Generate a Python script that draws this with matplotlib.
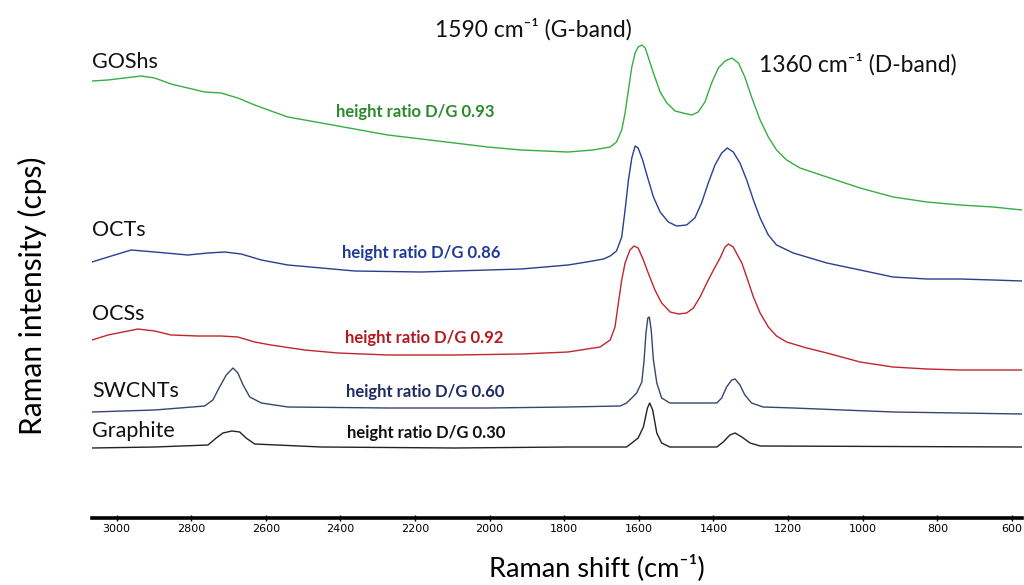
import numpy as np
import matplotlib
matplotlib.use("Agg")
import matplotlib.pyplot as plt

# Raman spectra (shift in cm-1, stacked intensity in arbitrary cps)
gos_x = [3066, 3023, 2979, 2934, 2898, 2854, 2809, 2764, 2720, 2675, 2630, 2586, 2541, 2451, 2362,
         2273, 2183, 2094, 2005, 1915, 1790, 1723, 1677, 1660, 1646, 1637, 1628, 1619, 1610, 1602,
         1592, 1583, 1575, 1561, 1543, 1525, 1503, 1482, 1458, 1441, 1423, 1405, 1387, 1369, 1351,
         1333, 1316, 1298, 1275, 1253, 1231, 1204, 1168, 1096, 1007, 918, 828, 739, 650, 573]
gos_y = [437, 438, 440, 442, 440, 434, 430, 426, 425, 420, 413, 407, 401, 395, 389,
         383, 379, 375, 371, 368, 366, 368, 371, 376, 388, 405, 428, 451, 465, 471,
         473, 470, 461, 445, 426, 415, 407, 405, 403, 406, 416, 435, 450, 457, 460,
         455, 441, 421, 398, 381, 368, 358, 350, 341, 330, 321, 316, 313, 311, 308]

oct_x = [3066, 3023, 2961, 2898, 2809, 2755, 2710, 2666, 2612, 2541, 2451, 2362, 2183, 2005, 1915,
         1790, 1740, 1695, 1677, 1660, 1646, 1637, 1628, 1619, 1610, 1602, 1590, 1577, 1561, 1543,
         1521, 1499, 1472, 1450, 1432, 1414, 1396, 1378, 1363, 1347, 1329, 1311, 1293, 1275, 1253,
         1231, 1186, 1096, 1007, 919, 828, 739, 650, 573]
oct_y = [256, 261, 268, 266, 263, 265, 266, 264, 258, 253, 250, 247, 246, 248, 249,
         253, 256, 259, 262, 267, 281, 308, 338, 360, 372, 370, 358, 341, 321, 306,
         296, 292, 293, 300, 315, 335, 353, 365, 370, 366, 355, 338, 318, 300, 283,
         273, 265, 255, 248, 241, 239, 239, 238, 237]

ocs_x = [3066, 3023, 2943, 2898, 2854, 2782, 2720, 2675, 2630, 2586, 2496, 2407, 2273, 2094, 1915,
         1790, 1704, 1677, 1664, 1655, 1646, 1637, 1624, 1613, 1602, 1588, 1575, 1557, 1539, 1516,
         1494, 1472, 1454, 1436, 1418, 1400, 1381, 1369, 1360, 1347, 1333, 1324, 1311, 1293, 1275,
         1253, 1231, 1204, 1150, 1096, 1007, 919, 828, 739, 573]
ocs_y = [178, 183, 189, 187, 183, 182, 182, 181, 176, 173, 168, 165, 163, 163, 164,
         166, 171, 178, 191, 215, 238, 255, 268, 272, 270, 258, 245, 228, 215, 206,
         204, 205, 210, 221, 235, 248, 261, 271, 274, 271, 261, 255, 241, 221, 205,
         191, 182, 176, 170, 165, 156, 151, 149, 148, 148]

swcnt_x = [3066, 2898, 2764, 2742, 2724, 2706, 2688, 2675, 2661, 2643, 2612, 2541, 2273, 2005, 1790,
           1650, 1633, 1619, 1606, 1592, 1586, 1581, 1576, 1572, 1567, 1561, 1552, 1539, 1517, 1391,
           1378, 1365, 1351, 1342, 1329, 1316, 1298, 1267, 1186, 918, 573]
swcnt_y = [106, 108, 112, 118, 131, 143, 150, 145, 133, 121, 115, 111, 110, 110, 111,
           112, 115, 120, 125, 136, 158, 185, 200, 201, 188, 158, 135, 120, 115, 115,
           120, 131, 138, 139, 133, 123, 115, 111, 110, 106, 104]

gra_x = [3066, 2898, 2755, 2733, 2715, 2691, 2670, 2653, 2630, 2451, 2094, 1790, 1633, 1619, 1602,
         1588, 1577, 1571, 1563, 1552, 1539, 1517, 1391, 1374, 1356, 1342, 1324, 1302, 1275, 573]
gra_y = [70, 71, 73, 80, 85, 87, 86, 80, 74, 71, 70, 71, 71, 75, 80,
         91, 110, 115, 108, 85, 75, 71, 71, 76, 83, 85, 81, 75, 72, 71]

names = ["GOShs", "OCTs", "OCSs", "SWCNTs", "Graphite"]
ratios = ["0.93", "0.86", "0.92", "0.60", "0.30"]

line_cols = ["#38ad45", "#2b3f8f", "#c0262d", "#35476e", "#222222"]
text_cols = ["#2b8a2b", "#1f3a9a", "#b5191f", "#1d2b66", "#111111"]
name_y = [450, 282, 198, 121, 81]
ratio_xy = [(2412, 401), (2396, 260), (2388, 175), (2385, 121), (2382, 80)]

plt.rcParams["font.family"] = ["Lato", "DejaVu Sans"]

fig = plt.figure(figsize=(10.24, 5.85), dpi=100)
ax = fig.add_axes([92/1024, 1-518/585, 930/1024, 488/585])

series = [(gos_x, gos_y), (oct_x, oct_y), (ocs_x, ocs_y), (swcnt_x, swcnt_y), (gra_x, gra_y)]
for i, (xs, ys) in enumerate(series):
    ax.plot(xs, ys, color=line_cols[i], lw=1.0)
    ax.text(3066, name_y[i], names[i], fontsize=15.5, color="#111111", ha="left", va="baseline")
    ax.text(ratio_xy[i][0], ratio_xy[i][1], "height ratio D/G " + ratios[i], fontsize=12,
            fontweight="bold", color=text_cols[i], ha="left", va="baseline")

ax.text(2146, 481, "1590 cm\u207b\u00b9 (G-band)", fontsize=16.5, color="#111111", va="baseline")
ax.text(1278, 446, "1360 cm\u207b\u00b9 (D-band)", fontsize=16.5, color="#111111", va="baseline")

ax.set_xlim(3066, 573)
ax.set_ylim(0, 488)
ax.set_xticks(np.arange(3000, 599, -200))
for s in ["top", "left", "right"]:
    ax.spines[s].set_visible(False)
ax.spines["bottom"].set_linewidth(2.6)
ax.set_yticks([])
ax.tick_params(axis="x", direction="inout", length=4, width=1, pad=2)
for lab in ax.get_xticklabels():
    lab.set_fontfamily(["Liberation Sans Narrow", "DejaVu Sans"])
    lab.set_fontsize(8)

fig.text(597/1024, 1-568/585, "Raman shift (cm\u207b\u00b9)", fontsize=19.5, ha="center", va="center")
fig.text(32/1024, 1-296/585, "Raman intensity (cps)", fontsize=21.5, rotation=90, ha="center", va="center")

fig.savefig("out.png", dpi=100)
